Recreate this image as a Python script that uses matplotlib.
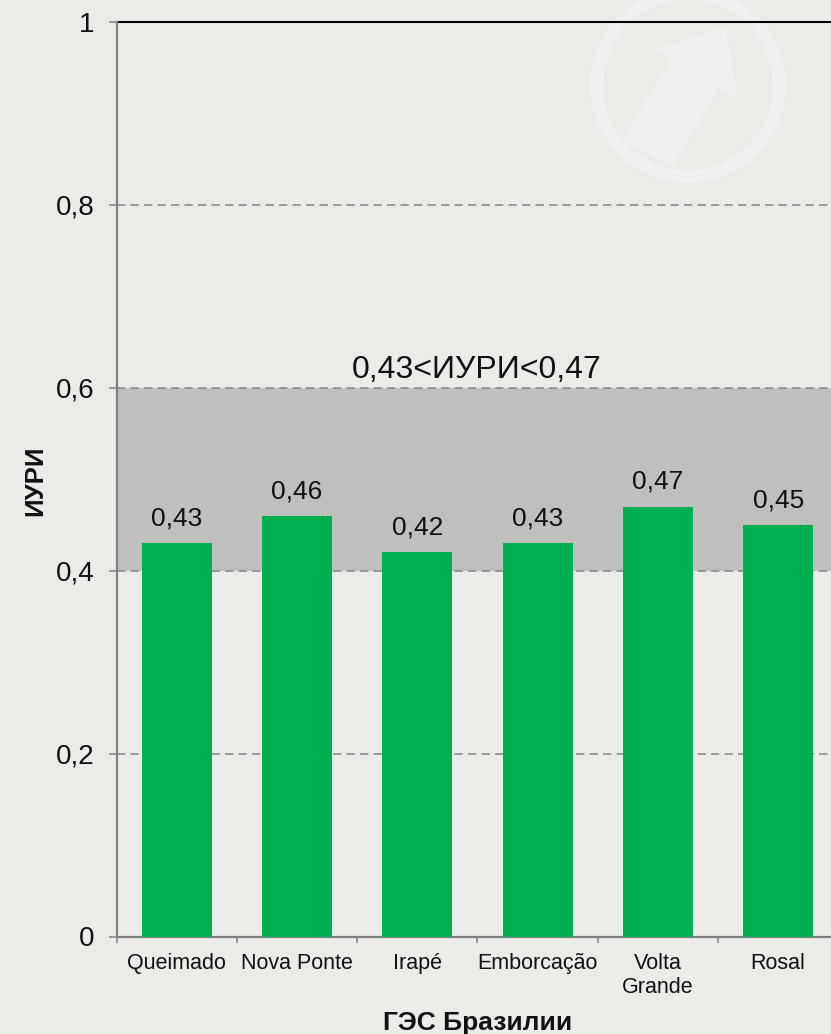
import matplotlib
matplotlib.use('Agg')
import matplotlib.pyplot as plt
from matplotlib.patches import Polygon, Wedge

plt.rcParams['font.family'] = ['Liberation Sans', 'DejaVu Sans']

# Data
stations = ['Queimado', 'Nova Ponte', 'Irapé', 'Emborcação', 'Volta\nGrande', 'Rosal']
iuri = [0.43, 0.46, 0.42, 0.43, 0.47, 0.45]
value_labels = ['0,43', '0,46', '0,42', '0,43', '0,47', '0,45']
y_ticks = [0, 0.2, 0.4, 0.6, 0.8, 1]
y_tick_labels = ['0', '0,2', '0,4', '0,6', '0,8', '1']
band = (0.4, 0.6)
band_label = '0,43<ИУРИ<0,47'

BG = '#ebebe7'
LOGO = '#f0f0ee'
GREEN = '#00b050'
W, H = 831, 1034
slot = 120.3  # px per category

fig = plt.figure(figsize=(W / 100, H / 100), dpi=100, facecolor=BG)

# faint logo behind the chart, in pixel coordinates
bg = fig.add_axes([0, 0, 1, 1], zorder=0)
bg.set_xlim(0, W)
bg.set_ylim(H, 0)
bg.axis('off')
bg.add_patch(Wedge((688, 85), 98, 0, 360, width=13, color=LOGO, lw=0))
bg.add_patch(Polygon([(726, 27), (656, 49), (672, 59), (622, 139), (672, 167),
                      (719, 88), (737, 98)], closed=True, color=LOGO, lw=0))

# axes run past the right edge of the picture, chart is cut off there
left, bottom, top = 116.5, 936.5, 22
ax = fig.add_axes([left / W, 1 - bottom / H, (W - left) / W, (bottom - top) / H], zorder=1)
ax.patch.set_alpha(0)
ax.set_xlim(-0.5, (W - left) / slot - 0.5)
ax.set_ylim(0, 1)

ax.axhspan(band[0], band[1], color='#bfbfbd', lw=0, zorder=1)
for t in y_ticks[1:-1]:
    ax.axhline(t, color='#8c8c8c', lw=1.2, ls=(0, (5, 3.1)), zorder=2)
ax.axhline(1, color='#000000', lw=1.5, zorder=2, clip_on=False)

x = list(range(len(stations)))
ax.bar(x, iuri, width=70 / slot, color=GREEN, zorder=3)
for xi, v, lab in zip(x, iuri, value_labels):
    ax.text(xi, v + 0.014, lab, ha='center', va='bottom', fontsize=19, color='#111111', zorder=4)

ax.text(2.49, 0.603, band_label, ha='center', va='bottom', fontsize=23, color='#111111')

for s in ['top', 'right']:
    ax.spines[s].set_visible(False)
for s in ['left', 'bottom']:
    ax.spines[s].set_color('#808080')
    ax.spines[s].set_linewidth(1.6)

ax.set_yticks(y_ticks)
ax.set_yticklabels(y_tick_labels, fontsize=20, color='#111111')
ax.tick_params(axis='y', length=6, width=1.1, color='#808080', pad=10)

# ticks between the bars, labels centred on the bars
ax.set_xticks([i - 0.5 for i in x])
ax.set_xticklabels([])
ax.tick_params(axis='x', length=4, width=1.1, color='#808080')
ax.set_xticks(x, minor=True)
ax.set_xticklabels(stations, minor=True, fontsize=15.5, color='#111111', linespacing=1.15)
ax.tick_params(axis='x', which='minor', length=0, pad=12)

fig.text(35 / W, 1 - 481 / H, 'ИУРИ', rotation=90, ha='center', va='center',
         fontsize=18.5, fontweight='bold', color='#111111')
fig.text(478 / W, 1 - 1023 / H, 'ГЭС Бразилии', ha='center', va='center',
         fontsize=19, fontweight='bold', color='#111111')

fig.savefig('out.png', dpi=100, facecolor=BG)
